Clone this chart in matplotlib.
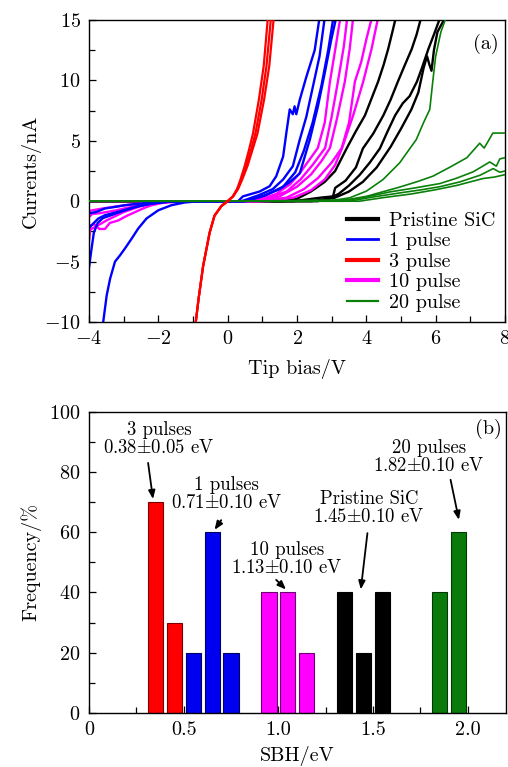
import matplotlib
matplotlib.use("Agg")
import matplotlib.pyplot as plt
from matplotlib.lines import Line2D
from matplotlib.ticker import MultipleLocator, FixedLocator, FixedFormatter

plt.rcParams['font.family'] = ['cmr10']
plt.rcParams['mathtext.fontset'] = 'cm'
plt.rcParams['axes.formatter.use_mathtext'] = True
plt.rcParams['axes.unicode_minus'] = True

# ---------------- Panel (a) data: I-V curves ----------------
# Pristine SiC (black)
pristine_v = [
    [-4, 0, 1.6, 2.0, 2.4, 2.8, 3.1, 3.43, 3.7, 3.96, 4.15, 4.34, 4.5, 4.63, 4.75, 4.85],
    [-4, 0, 1.9, 2.3, 2.7, 3.04, 3.1, 3.4, 3.7, 3.9, 4.2, 4.49, 4.7, 4.91, 5.1, 5.31, 5.45, 5.58],
    [-4, 0, 2.4, 2.9, 3.2, 3.5, 3.8, 4.1, 4.39, 4.6, 4.83, 5.05, 5.25, 5.46, 5.6, 5.79, 5.95, 6.13],
    [-4, 0, 2.6, 3.1, 3.5, 3.9, 4.3, 4.7, 5.0, 5.3, 5.5, 5.65, 5.75, 5.82, 5.88, 5.95, 6.05, 6.2, 6.3],
]
pristine_i = [
    [0, 0, 0, 0.2, 0.8, 1.6, 2.5, 4.36, 5.8, 7.1, 8.5, 9.9, 11.3, 12.6, 14.0, 15.2],
    [0, 0, 0, 0.15, 0.3, 0.4, 1.1, 1.7, 2.8, 4.36, 5.6, 7.1, 8.4, 9.9, 11.2, 12.6, 13.8, 15.2],
    [0, 0, 0, 0.2, 0.6, 1.3, 2.15, 3.2, 4.36, 5.7, 7.1, 8.1, 8.7, 9.9, 11.0, 12.6, 13.8, 15.2],
    [0, 0, 0, 0.3, 0.8, 1.6, 2.8, 4.5, 6.0, 7.6, 9.0, 11.0, 12.0, 11.3, 10.8, 12.5, 14.0, 14.8, 15.2],
]

# 1 pulse (blue)
pulse1_v = [
    [-3.62, -3.59, -3.49, -3.39, -3.25, -3.11, -2.96, -2.77, -2.58, -2.34, -2.0, -1.62, -1.23, -0.8, 0,
     0.3, 0.44, 0.92, 1.21, 1.40, 1.60, 1.69, 1.79, 1.88, 1.93, 1.98, 2.08, 2.27, 2.51, 2.65],
    [-4.0, -3.93, -3.86, -3.75, -3.6, -3.4, -3.16, -2.9, -2.67, -2.4, -2.19, -1.9, -1.72, -1.2, 0,
     0.4, 0.9, 1.3, 1.6, 1.88, 2.08, 2.27, 2.46, 2.65, 2.8],
    [-4.0, -3.8, -3.54, -3.2, -2.96, -2.6, -2.19, -1.8, -1.2, 0,
     0.5, 1.0, 1.5, 1.8, 2.08, 2.37, 2.6, 2.8, 2.99, 3.13],
    [-4.0, -3.73, -3.54, -3.16, -2.67, -2.19, -1.72, 0,
     0.5, 1.1, 1.6, 1.95, 2.2, 2.45, 2.7, 2.9, 3.05],
]
pulse1_i = [
    [-11, -10, -7.8, -6.4, -5.0, -4.5, -3.9, -3.1, -2.26, -1.43, -0.75, -0.33, -0.1, 0, 0,
     0, 0.4, 0.8, 1.24, 2.06, 3.7, 5.6, 7.6, 7.2, 7.85, 7.2, 8.4, 10.3, 12.5, 15.2],
    [-5.5, -4.0, -2.6, -1.8, -1.4, -1.2, -0.95, -0.7, -0.5, -0.3, -0.2, -0.1, -0.05, 0, 0,
     0, 0.5, 1.0, 1.8, 2.9, 5.1, 7.0, 9.5, 12.0, 15.2],
    [-1.0, -0.9, -0.6, -0.45, -0.33, -0.22, -0.1, -0.05, 0, 0,
     0, 0.4, 1.0, 1.6, 2.3, 5.1, 7.8, 10.6, 13.4, 15.2],
    [-2.2, -1.43, -1.16, -0.88, -0.47, -0.19, -0.05, 0,
     0, 0.5, 1.2, 2.4, 4.2, 6.5, 9.5, 12.5, 15.2],
]

# 3 pulse (red)
pulse3_v = [
    [-0.95, -0.92, -0.84, -0.71, -0.52, -0.38, -0.18, 0, 0.15, 0.27, 0.37, 0.49, 0.62, 0.73, 0.90, 1.04, 1.16],
    [-0.95, -0.92, -0.84, -0.71, -0.52, -0.38, -0.18, 0, 0.15, 0.28, 0.40, 0.53, 0.68, 0.80, 0.98, 1.12, 1.25],
    [-0.95, -0.92, -0.84, -0.71, -0.52, -0.38, -0.18, 0, 0.16, 0.30, 0.42, 0.57, 0.72, 0.86, 1.05, 1.20, 1.33],
]
pulse3_i = [
    [-11, -10, -8.1, -5.4, -2.6, -1.2, -0.4, 0, 0.4, 1.0, 1.8, 2.9, 4.3, 5.6, 8.4, 11.2, 15.2],
    [-11, -10, -8.1, -5.4, -2.6, -1.2, -0.4, 0, 0.4, 1.0, 1.8, 2.9, 4.3, 5.6, 8.4, 11.2, 15.2],
    [-11, -10, -8.1, -5.4, -2.6, -1.2, -0.4, 0, 0.4, 1.0, 1.8, 2.9, 4.3, 5.6, 8.4, 11.2, 15.2],
]

# 10 pulse (magenta)
pulse10_v = [
    [-4.0, -3.95, -3.85, -3.7, -3.54, -3.4, -3.16, -2.9, -2.67, -2.4, -2.19, -1.9, -1.6, -1.0, 0,
     0.5, 1.0, 1.4, 1.8, 2.1, 2.35, 2.6, 2.8, 2.95, 3.1, 3.25],
    [-4.0, -3.9, -3.7, -3.5, -3.2, -2.9, -2.6, -2.3, -2.0, -1.6, -1.0, 0,
     0.7, 1.2, 1.7, 2.1, 2.45, 2.81, 3.0, 3.18, 3.35, 3.45],
    [-4.0, -3.6, -3.0, -2.5, -2.0, -1.5, 0,
     0.9, 1.5, 2.0, 2.4, 2.7, 2.95, 3.15, 3.38, 3.52, 3.62],
    [-4.0, -3.8, -3.5, -3.0, -2.5, -2.0, 0,
     1.0, 1.7, 2.2, 2.6, 3.0, 3.29, 3.5, 3.67, 3.85, 4.0, 4.16],
    [-4.0, 0, 1.2, 1.9, 2.4, 2.8, 3.1, 3.3, 3.62, 3.91, 4.15, 4.34],
]
pulse10_i = [
    [-3.3, -2.0, -1.9, -2.3, -2.3, -1.8, -1.6, -1.2, -0.9, -0.55, -0.33, -0.15, -0.05, 0, 0,
     0, 0.2, 0.6, 1.4, 2.4, 3.4, 4.4, 6.5, 9.9, 12.5, 15.2],
    [-1.3, -1.05, -1.0, -0.9, -0.75, -0.55, -0.38, -0.22, -0.1, -0.03, 0, 0,
     0, 0.3, 0.8, 1.8, 3.0, 4.4, 7.0, 9.9, 12.8, 15.2],
    [-0.8, -0.6, -0.35, -0.18, -0.06, 0, 0,
     0, 0.4, 1.2, 2.2, 3.3, 4.4, 6.8, 9.9, 12.6, 15.2],
    [-2.4, -2.1, -1.6, -0.9, -0.4, -0.1, 0,
     0, 0.3, 1.0, 1.9, 3.2, 4.4, 6.5, 9.9, 11.5, 13.4, 15.2],
    [0, 0, 0, 0.3, 0.9, 1.8, 3.0, 4.4, 7.1, 9.9, 12.6, 15.2],
]

# 20 pulse (green)
pulse20_v = [
    [-4, 0, 2.5, 3.0, 3.52, 4.0, 4.48, 4.96, 5.44, 5.65, 5.83, 5.92, 6.0, 6.15, 6.3],
    [-4, 0, 3.0, 3.5, 4.0, 4.5, 5.0, 5.5, 5.92, 6.4, 6.9, 7.27, 7.4, 7.65, 8.0],
    [-4, 0, 3.5, 4.0, 4.68, 5.4, 6.12, 6.6, 7.08, 7.3, 7.56, 7.75, 7.85, 8.0],
    [-4, 0, 3.5, 4.2, 5.0, 5.6, 6.12, 6.7, 7.28, 7.66, 7.85, 8.0],
    [-4, 0, 3.8, 4.5, 5.3, 6.0, 6.6, 7.0, 7.37, 7.7, 8.0],
]
pulse20_i = [
    [0, 0, 0, 0.05, 0.28, 0.83, 1.79, 3.17, 5.1, 6.5, 7.6, 10.0, 12.0, 14.0, 15.2],
    [0, 0, 0.05, 0.15, 0.4, 0.8, 1.2, 1.65, 2.07, 2.8, 3.6, 4.8, 4.4, 5.64, 5.64],
    [0, 0, 0.1, 0.35, 0.77, 1.1, 1.46, 1.9, 2.43, 2.8, 3.25, 2.9, 3.5, 3.6],
    [0, 0, 0, 0.35, 0.7, 0.95, 1.2, 1.6, 2.15, 2.7, 2.4, 2.5],
    [0, 0, 0, 0.3, 0.6, 0.95, 1.3, 1.6, 1.88, 2.0, 2.2],
]

legend_labels = ["Pristine SiC", "1 pulse", "3 pulse", "10 pulse", "20 pulse"]

# ---------------- Panel (b) data: SBH histogram ----------------
sbh_3p = [0.35, 0.45]
freq_3p = [70, 30]
sbh_1p = [0.55, 0.65, 0.75]
freq_1p = [20, 60, 20]
sbh_10p = [0.95, 1.05, 1.15]
freq_10p = [40, 40, 20]
sbh_pr = [1.35, 1.45, 1.55]
freq_pr = [40, 20, 40]
sbh_20p = [1.85, 1.95]
freq_20p = [40, 60]

ann_texts = ["3 pulses\n0.38$\\pm$0.05 eV", "1 pulses\n0.71$\\pm$0.10 eV",
             "10 pulses\n1.13$\\pm$0.10 eV", "Pristine SiC\n1.45$\\pm$0.10 eV",
             "20 pulses\n1.82$\\pm$0.10 eV"]
ann_text_xy = [(0.37, 91.0), (0.727, 72.8), (1.044, 51.1), (1.479, 67.9), (1.795, 84.8)]
ann_arrow_from = [(0.312, 83.0), (0.698, 64.0), (0.988, 44.2), (1.47, 59.7), (1.909, 77.4)]
ann_arrow_to = [(0.338, 71.0), (0.663, 60.8), (1.04, 41.0), (1.435, 41.0), (1.953, 64.1)]

# ---------------- Figure ----------------
W, H = 508, 767
fig = plt.figure(figsize=(W / 100, H / 100), dpi=100)
ax1 = fig.add_axes([89 / W, 1 - 322 / H, (505 - 89) / W, (322 - 20) / H])
ax2 = fig.add_axes([89 / W, 1 - 713 / H, (505.7 - 89) / W, (713 - 411.7) / H])

FS = 14.5

blue = '#0000ff'
red = '#ff0000'
mag = '#ff00ff'
green = '#0a800a'

for v, i in zip(pristine_v, pristine_i):
    ax1.plot(v, i, color='black', lw=1.7, zorder=2)
for v, i in zip(pulse10_v, pulse10_i):
    ax1.plot(v, i, color=mag, lw=1.7, zorder=2)
for v, i in zip(pulse1_v, pulse1_i):
    ax1.plot(v, i, color=blue, lw=1.7, zorder=2)
for v, i in zip(pulse20_v, pulse20_i):
    ax1.plot(v, i, color=green, lw=1.2, zorder=3)
for v, i in zip(pulse3_v, pulse3_i):
    ax1.plot(v, i, color=red, lw=1.6, zorder=4)

ax1.set_xlim(-4, 8)
ax1.set_ylim(-10, 15)
ax1.xaxis.set_major_locator(MultipleLocator(2))
ax1.xaxis.set_minor_locator(MultipleLocator(1))
ax1.yaxis.set_major_locator(MultipleLocator(5))
ax1.yaxis.set_minor_locator(MultipleLocator(2.5))
ax1.set_xlabel("Tip bias/V", fontsize=FS, labelpad=8)
ax1.set_ylabel("Currents/nA", fontsize=FS, labelpad=2)
ax1.text(0.985, 0.955, "(a)", transform=ax1.transAxes, ha='right', va='top', fontsize=FS)

handles = [Line2D([], [], color='black', lw=3),
           Line2D([], [], color=blue, lw=2),
           Line2D([], [], color=red, lw=3),
           Line2D([], [], color=mag, lw=3),
           Line2D([], [], color=green, lw=1.6)]
ax1.legend(handles, legend_labels, loc='lower right', frameon=False, fontsize=FS,
           handlelength=1.55, handletextpad=0.5, labelspacing=0.12,
           borderaxespad=0.1, bbox_to_anchor=(1.0, 0.0))

bar_kw = dict(width=0.08, linewidth=0.8, zorder=2)
ax2.bar(sbh_3p, freq_3p, color=red, edgecolor='#7a0000', **bar_kw)
ax2.bar(sbh_1p, freq_1p, color='#0000f0', edgecolor='#000060', **bar_kw)
ax2.bar(sbh_10p, freq_10p, color=mag, edgecolor='#700070', **bar_kw)
ax2.bar(sbh_pr, freq_pr, color='black', edgecolor='black', **bar_kw)
ax2.bar(sbh_20p, freq_20p, color='#0a7a0a', edgecolor='#033803', **bar_kw)

for t, xy, a0, a1 in zip(ann_texts, ann_text_xy, ann_arrow_from, ann_arrow_to):
    ax2.text(xy[0], xy[1], t, ha='center', va='center', multialignment='center',
             fontsize=FS - 1, linespacing=1.0, zorder=5)
    ax2.annotate("", xy=a1, xytext=a0,
                 arrowprops=dict(arrowstyle='-|>,head_length=0.5,head_width=0.2',
                                 color='black', lw=1.3, shrinkA=0, shrinkB=0), zorder=5)

ax2.set_xlim(0, 2.2)
ax2.set_ylim(0, 100)
ax2.xaxis.set_major_locator(FixedLocator([0, 0.5, 1.0, 1.5, 2.0]))
ax2.xaxis.set_major_formatter(FixedFormatter(["0", "0.5", "1.0", "1.5", "2.0"]))
ax2.xaxis.set_minor_locator(MultipleLocator(0.25))
ax2.yaxis.set_major_locator(MultipleLocator(20))
ax2.yaxis.set_minor_locator(MultipleLocator(10))
ax2.set_xlabel("SBH/eV", fontsize=FS, labelpad=5)
ax2.set_ylabel("Frequency/%", fontsize=FS, labelpad=6)
ax2.text(0.99, 0.975, "(b)", transform=ax2.transAxes, ha='right', va='top', fontsize=FS)

for ax in (ax1, ax2):
    ax.tick_params(which='both', direction='in', top=False, right=False, labelsize=FS, width=0.9)
    ax.tick_params(which='major', length=5, pad=6)
    ax.tick_params(which='minor', length=4)
    for s in ax.spines.values():
        s.set_linewidth(1.0)

fig.savefig("out.png", dpi=100)
